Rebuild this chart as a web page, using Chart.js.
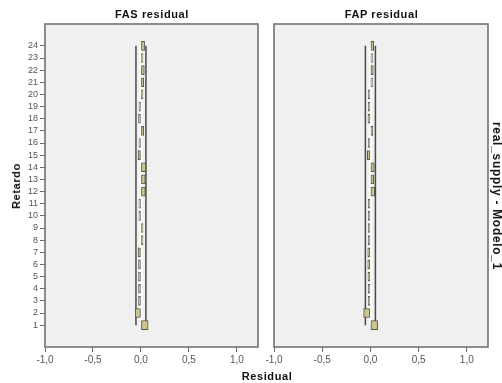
<!DOCTYPE html>
<html><head><meta charset="utf-8">
<script src="https://cdn.jsdelivr.net/npm/chart.js@4/dist/chart.umd.min.js"></script>
<style>
html,body{margin:0;padding:0;background:#fff;width:502px;height:383px;overflow:hidden;font-family:"Liberation Sans",Arial,sans-serif;}
#wrap{position:relative;width:502px;height:383px;}
canvas{position:absolute;left:0;top:0;}
.t{position:absolute;font-weight:bold;color:#111;white-space:nowrap;transform-origin:center center;font-size:11px;letter-spacing:0.6px;}
</style></head><body>
<div id="wrap">
<canvas id="c1" width="502" height="383" style="width:502px;height:383px"></canvas>
<canvas id="c2" width="502" height="383" style="width:502px;height:383px"></canvas>
<div class="t" style="left:152px;top:14px;transform:translate(-50%,-50%);">FAS residual</div>
<div class="t" style="left:381.5px;top:14px;transform:translate(-50%,-50%);">FAP residual</div>
<div class="t" style="left:267px;top:376px;transform:translate(-50%,-50%);">Residual</div>
<div class="t" style="left:16px;top:185.5px;transform:translate(-50%,-50%) rotate(-90deg);">Retardo</div>
<div class="t" style="left:497px;top:196px;transform:translate(-50%,-50%) rotate(90deg);font-size:12px;letter-spacing:0.7px;">real_supply - Modelo_1</div>
</div>
<script>
const lags = [1,2,3,4,5,6,7,8,9,10,11,12,13,14,15,16,17,18,19,20,21,22,23,24];
const fasValues = [0.075,-0.06,-0.025,-0.025,-0.025,-0.025,-0.03,0.008,0.008,-0.008,-0.008,0.045,0.045,0.05,-0.03,-0.008,0.03,-0.025,-0.012,0.008,0.028,0.035,0.015,0.038];
const fapValues = [0.075,-0.07,-0.01,-0.022,-0.025,-0.027,-0.027,-0.006,-0.006,-0.006,-0.006,0.045,0.035,0.04,-0.032,-0.005,0.025,-0.025,-0.01,-0.003,0.02,0.03,0.01,0.035];
const confLimit = 0.052;
const xTickValues = [-1,-0.5,0,0.5,1];

const panelPlugin = {
  id: 'panel',
  beforeDraw(chart) {
    const a = chart.chartArea, ctx = chart.ctx;
    ctx.save();
    ctx.fillStyle = '#f0f0f0';
    ctx.fillRect(a.left, a.top, a.right - a.left, a.bottom - a.top);
    ctx.restore();
  },
  afterDraw(chart) {
    const a = chart.chartArea, ctx = chart.ctx;
    ctx.save();
    ctx.strokeStyle = '#727272';
    ctx.lineWidth = 1.6;
    ctx.strokeRect(a.left, a.top, a.right - a.left, a.bottom - a.top);
    ctx.restore();
  }
};

function makeChart(id, values, showY, padding) {
  const lineData = v => [{x: v, y: lags[0]}, {x: v, y: lags[lags.length - 1]}];
  return new Chart(document.getElementById(id), {
    type: 'bar',
    data: {
      datasets: [
        {type: 'bar', indexAxis: 'y', data: lags.map((l, i) => ({x: values[i], y: l})),
         backgroundColor: '#cdc58c', borderColor: '#55554a', borderWidth: 1, borderSkipped: false,
         barThickness: 9, minBarLength: 2, order: 0},
        {type: 'line', indexAxis: 'y', data: lineData(-confLimit), borderColor: '#4a4a4a', borderWidth: 1.5, pointRadius: 0, fill: false, order: 1},
        {type: 'line', indexAxis: 'y', data: lineData(confLimit), borderColor: '#4a4a4a', borderWidth: 1.5, pointRadius: 0, fill: false, order: 1},
        {type: 'line', indexAxis: 'y', data: lineData(0), borderColor: '#ffffff', borderWidth: 3, pointRadius: 0, fill: false, order: 2}
      ]
    },
    options: {
      indexAxis: 'y',
      responsive: false,
      animation: false,
      layout: {padding: padding},
      plugins: {legend: {display: false}, tooltip: {enabled: false}},
      scales: {
        y: {
          type: 'linear', min: -0.8, max: 25.8, display: showY, offset: false,
          afterBuildTicks: a => { a.ticks = lags.map(v => ({value: v})); },
          afterFit: s => { s.width = showY ? 45 : 0; },
          ticks: {font: {size: 9, family: '"Liberation Sans", Arial, sans-serif'}, color: '#555', padding: 2, autoSkip: false},
          grid: {drawOnChartArea: false, tickLength: 5, color: '#666', offset: false},
          border: {display: false}
        },
        x: {
          type: 'linear', min: -1, max: 1.22, offset: false,
          afterBuildTicks: a => { a.ticks = xTickValues.map(v => ({value: v})); },
          afterFit: s => { s.height = 30; },
          ticks: {font: {size: 10, family: '"Liberation Sans", Arial, sans-serif'}, color: '#555', padding: 2, maxRotation: 0, autoSkip: false,
                  callback: v => v.toFixed(1).replace('.', ',')},
          grid: {drawOnChartArea: false, tickLength: 5, color: '#666'},
          border: {display: false}
        }
      }
    },
    plugins: [panelPlugin]
  });
}

makeChart('c1', fasValues, true, {left: 0, right: 244, top: 24, bottom: 6});
makeChart('c2', fapValues, false, {left: 274, right: 14, top: 24, bottom: 6});
</script>
</body></html>
